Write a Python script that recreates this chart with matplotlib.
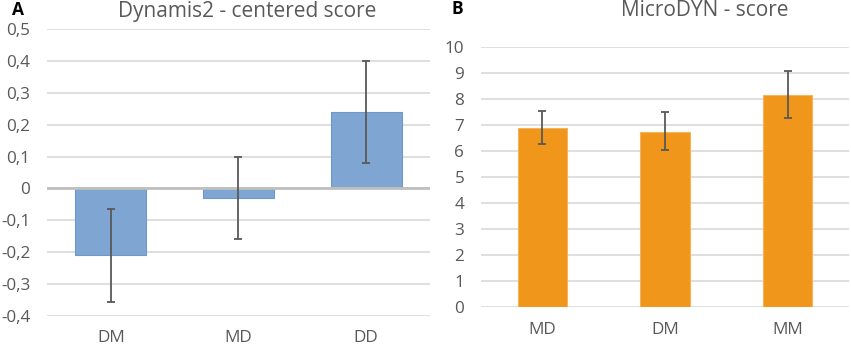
import matplotlib.pyplot as plt
import numpy as np

# Paneel A: Dynamis2 - centered score
groups_a = ['DM', 'MD', 'DD']
means_a = [-0.21, -0.03, 0.24]
err_low_a = [-0.355, -0.16, 0.08]
err_high_a = [-0.065, 0.10, 0.40]
ticks_a = [0.5, 0.4, 0.3, 0.2, 0.1, 0, -0.1, -0.2, -0.3, -0.4]

# Paneel B: MicroDYN - score
groups_b = ['MD', 'DM', 'MM']
means_b = [6.88, 6.73, 8.15]
err_low_b = [6.27, 6.02, 7.27]
err_high_b = [7.52, 7.47, 9.05]
ticks_b = list(range(0, 11))

plt.rcParams['font.family'] = ['Open Sans', 'DejaVu Sans']
text_col = '#595959'
grid_col = '#d9d9d9'

fig = plt.figure(figsize=(8.51, 3.46), dpi=100)
ax1 = fig.add_axes([0.0552, 0.0867, 0.4501, 0.8295])
ax2 = fig.add_axes([0.5652, 0.1136, 0.4324, 0.7514])

def style(ax):
    for s in ax.spines.values():
        s.set_visible(False)
    ax.tick_params(length=0, colors=text_col, labelsize=12.3)
    ax.set_axisbelow(True)
    ax.yaxis.grid(True, color=grid_col, linewidth=1.2)

# Paneel A
x = np.arange(len(groups_a))
yerr_a = [np.array(means_a) - np.array(err_low_a), np.array(err_high_a) - np.array(means_a)]
ax1.bar(x, means_a, width=0.555, color='#7fa6d3', edgecolor='#6e98cc', linewidth=0.8, zorder=2)
ax1.errorbar(x, means_a, yerr=yerr_a, fmt='none', ecolor='#595959', elinewidth=1.3, capsize=3, capthick=1.3, zorder=3)
ax1.axhline(0, color='#bfbfbf', linewidth=2, zorder=2.5)
style(ax1)
ax1.set_xlim(-0.5, 2.5)
ax1.set_ylim(-0.4, 0.5)
ax1.set_yticks(ticks_a)
ax1.set_yticklabels([('%g' % t).replace('.', ',') for t in ticks_a])
ax1.set_xticks(x)
ax1.set_xticklabels(groups_a)
ax1.tick_params(axis='y', pad=12)
ax1.tick_params(axis='x', pad=10)

# Paneel B
x = np.arange(len(groups_b))
yerr_b = [np.array(means_b) - np.array(err_low_b), np.array(err_high_b) - np.array(means_b)]
ax2.bar(x, means_b, width=0.4, color='#f0961a', edgecolor='#f5b35c', linewidth=0.8, zorder=2)
ax2.errorbar(x, means_b, yerr=yerr_b, fmt='none', ecolor='#595959', elinewidth=1.3, capsize=3, capthick=1.3, zorder=3)
style(ax2)
ax2.set_xlim(-0.5, 2.5)
ax2.set_ylim(0, 10)
ax2.set_yticks(ticks_b)
ax2.set_xticks(x)
ax2.set_xticklabels(groups_b)
ax2.tick_params(axis='y', pad=12)
ax2.tick_params(axis='x', pad=11)

fig.text(247 / 851, 1 - 11 / 346, 'Dynamis2 - centered score', ha='center', va='center', fontsize=15, color=text_col)
fig.text(705 / 851, 1 - 11 / 346, 'MicroDYN - score', ha='center', va='center', fontsize=15, color=text_col)
fig.text(18 / 851, 1 - 10 / 346, 'A', ha='center', va='center', fontsize=12.5, fontweight='bold', color='black')
fig.text(457 / 851, 1 - 9 / 346, 'B', ha='center', va='center', fontsize=12.5, fontweight='bold', color='black')

fig.savefig('out.png', dpi=100)
